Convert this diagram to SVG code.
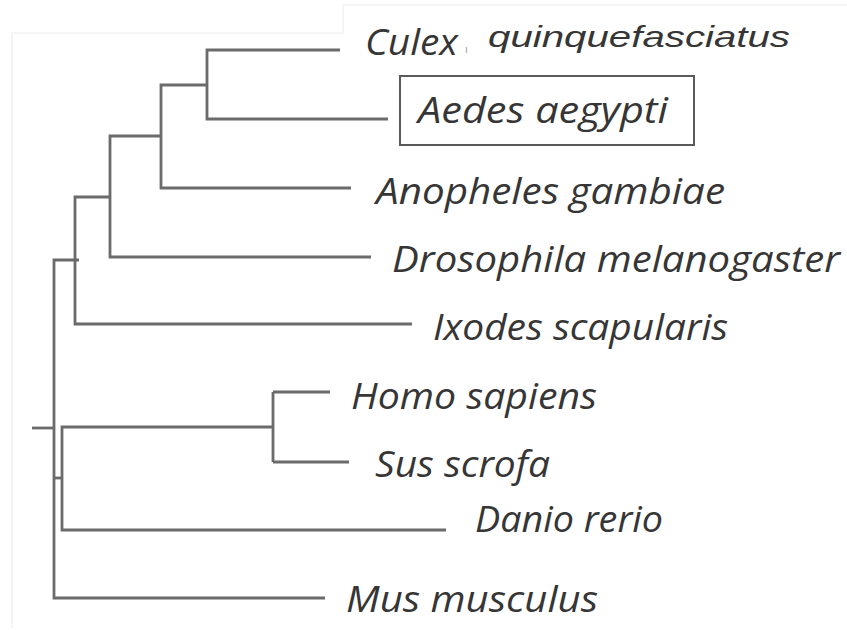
<svg xmlns="http://www.w3.org/2000/svg" width="847" height="630" viewBox="0 0 847 630">
<style>
.br{fill:none;stroke:#6b6b6b;stroke-width:2.8;stroke-linecap:butt;stroke-linejoin:miter}
.lb{font-family:"Open Sans","Noto Sans","DejaVu Sans",sans-serif;font-style:italic;font-size:36px;fill:#363636}
.ar{font-family:"Liberation Sans",Arial,sans-serif;font-style:italic;font-size:30px;fill:#363636}
.frame{fill:none;stroke:#f2f2f2;stroke-width:1.5}
</style>
<rect width="847" height="630" fill="#ffffff"/>
<g id="frame">
<path class="frame" d="M12,628 V33 H343 V5 H847"/>
</g>
<g id="connectors">
<path class="br" d="M340,50 H207 V119 H388"/>
<path class="br" d="M207,85 H161 V188 H351"/>
<path class="br" d="M161,136 H110 V257 H371"/>
<path class="br" d="M110,197 H75 V324 H412"/>
<path class="br" d="M79,260 H54 V598 H325"/>
<path class="br" d="M32,428 H54"/>
<path class="br" d="M54,478 H62"/>
<path class="br" d="M273,392 V462"/>
<path class="br" d="M273,427 H62 V530 H446"/>
<path class="br" d="M273,392 H330"/>
<path class="br" d="M273,462 H349"/>
</g>
<g id="culex">
<text class="lb" x="365" y="55" font-size="31" textLength="93" lengthAdjust="spacingAndGlyphs">Culex</text>
<text x="465" y="53" font-family="Liberation Sans, sans-serif" font-size="10" fill="#999999">ı</text>
<text class="ar" x="488" y="47" textLength="302" lengthAdjust="spacingAndGlyphs">quinquefasciatus</text>
</g>
<g id="aedes">
<rect x="400" y="76" width="294" height="69" fill="none" stroke="#5a5a5a" stroke-width="2"/>
<text class="lb" x="418" y="123" textLength="250" lengthAdjust="spacingAndGlyphs">Aedes aegypti</text>
</g>
<g id="anopheles">
<text class="lb" x="376" y="204" textLength="349" lengthAdjust="spacingAndGlyphs">Anopheles gambiae</text>
</g>
<g id="drosophila">
<text class="lb" x="392" y="272" textLength="448" lengthAdjust="spacingAndGlyphs">Drosophila melanogaster</text>
</g>
<g id="ixodes">
<text class="lb" x="433" y="340" textLength="295" lengthAdjust="spacingAndGlyphs">Ixodes scapularis</text>
</g>
<g id="homo">
<text class="lb" x="351" y="409" textLength="246" lengthAdjust="spacingAndGlyphs">Homo sapiens</text>
</g>
<g id="sus">
<text class="lb" x="375" y="477" textLength="175" lengthAdjust="spacingAndGlyphs">Sus scrofa</text>
</g>
<g id="danio">
<text class="lb" x="475" y="532" textLength="188" lengthAdjust="spacingAndGlyphs">Danio rerio</text>
</g>
<g id="mus">
<text class="lb" x="346" y="612" textLength="252" lengthAdjust="spacingAndGlyphs">Mus musculus</text>
</g>
</svg>
